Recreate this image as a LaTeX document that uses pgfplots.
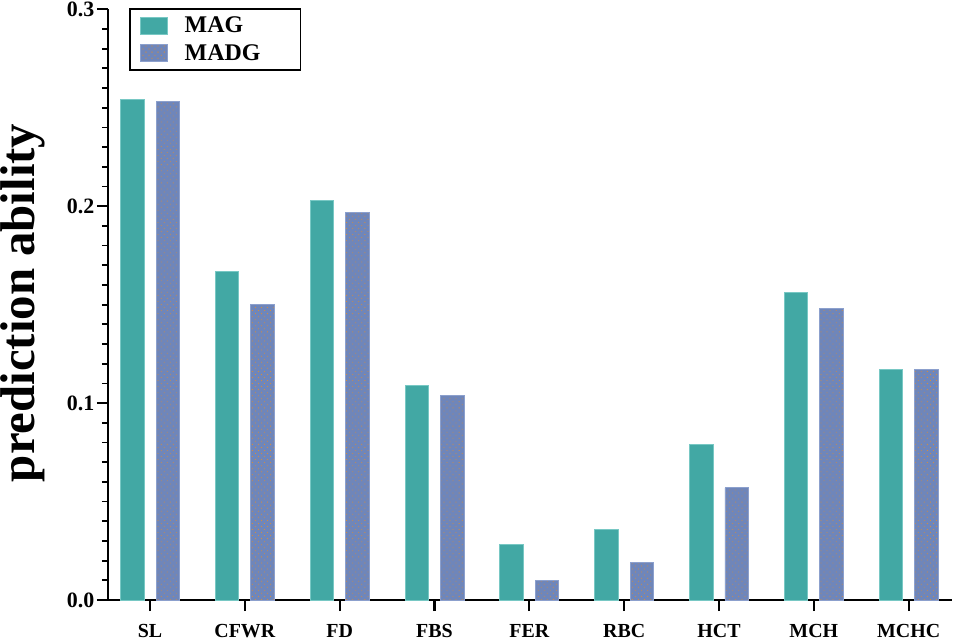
\documentclass[border=0pt]{standalone}
\usepackage{fontspec}
\setmainfont{Liberation Serif}
\usepackage{pgfplots}
\pgfplotsset{compat=1.18}
\usetikzlibrary{patterns.meta}
\definecolor{tealbar}{RGB}{66,168,164}
\definecolor{tealedge}{RGB}{120,200,196}
\definecolor{bluebar}{RGB}{111,134,186}
\definecolor{blueedge}{RGB}{140,160,205}
\definecolor{dotorange}{RGB}{214,140,60}
\begin{document}
\begin{tikzpicture}
\begin{axis}[
  at={(0,0)}, anchor=south west,
  scale only axis,
  width=844bp, height=590.7bp,
  xmin=-0.443, xmax=8.457,
  ymin=0, ymax=0.3,
  axis x line=bottom, axis y line=left,
  axis line style={-, line width=2.4bp, black},
  xtick={0,1,2,3,4,5,6,7,8},
  xticklabels={SL,CFWR,FD,FBS,FER,RBC,HCT,MCH,MCHC},
  ytick={0,0.1,0.2,0.3},
  minor y tick num=9,
  tick align=outside,
  major tick length=11bp,
  minor tick length=6bp,
  every tick/.style={black, line width=2.2bp},
  minor tick style={line width=1.8bp},
  x tick label style={font=\fontsize{20}{23}\selectfont\bfseries, yshift=-10bp},
  y tick label style={font=\fontsize{22}{25}\selectfont\bfseries, inner xsep=2.5bp},
  /pgf/number format/assume math mode=true,
  yticklabel={\pgfmathprintnumber[fixed, fixed zerofill, precision=1]{\tick}},
  ylabel={\fontsize{49}{56}\selectfont\bfseries prediction ability},
  y label style={at={(axis description cs:0,0.503)}, anchor=center, inner sep=0bp, yshift=85bp},
  ybar, bar width=23.5bp,
  legend style={at={(axis description cs:0.025,1.0)}, yshift=1.3bp, anchor=north west,
    draw=black, line width=1.6bp, inner xsep=10bp, inner ysep=8bp,
    row sep=9.7bp, font=\fontsize{24}{28}\selectfont\bfseries,
    nodes={inner sep=0bp, anchor=west},
    /tikz/every odd column/.append style={column sep=17bp}},
  legend cell align=left,
]
\addplot[bar shift=-17.75bp, fill=tealbar, draw=tealedge, line width=0.8bp,
  legend image code/.code={\draw[fill=tealbar, draw=tealedge, line width=0.8bp] (0bp,-8.5bp) rectangle (27bp,8.5bp);}]
  coordinates {(0,0.254) (1,0.167) (2,0.203) (3,0.109) (4,0.028) (5,0.036) (6,0.079) (7,0.156) (8,0.117)};
\addlegendentry{MAG}
\addplot[bar shift=17.75bp, fill=bluebar, draw=blueedge, line width=0.8bp,
  postaction={pattern={Dots[distance=4.3bp, angle=45, radius=0.55bp]}, pattern color=dotorange},
  legend image code/.code={\draw[fill=bluebar, draw=blueedge, line width=0.8bp, postaction={pattern={Dots[distance=4.3bp, angle=45, radius=0.55bp]}, pattern color=dotorange}] (0bp,-8.5bp) rectangle (27bp,8.5bp);}]
  coordinates {(0,0.253) (1,0.150) (2,0.197) (3,0.104) (4,0.010) (5,0.019) (6,0.057) (7,0.148) (8,0.117)};
\addlegendentry{MADG\hspace*{30bp}}
\end{axis}
\pgfresetboundingbox
\path (-108bp,-42bp) rectangle (849bp,600bp);
\end{tikzpicture}
\end{document}
